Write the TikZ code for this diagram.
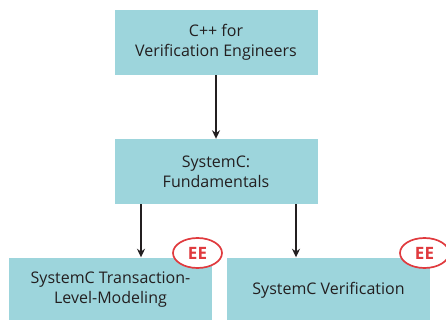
\documentclass[tikz,border=0pt]{standalone}
\usepackage{fontspec}
\setmainfont{Open Sans}
\usetikzlibrary{arrows.meta,positioning,shapes.geometric}
\definecolor{boxfill}{HTML}{9DD5DC}
\definecolor{txt}{HTML}{231F20}
\definecolor{eered}{HTML}{E03A3E}
\tikzset{
  course/.style={fill=boxfill, draw=none, minimum width=203pt, minimum height=65pt, inner sep=0pt,
    align=center, text=txt, font=\fontsize{16}{20}\selectfont},
  link/.style={draw=txt, line width=1.7pt, -{Stealth[length=8.5pt,width=8pt]}},
  eebadge/.style={ellipse, draw=eered, line width=1.7pt, fill=white, minimum width=49pt, minimum height=30pt,
    inner sep=0pt, text=eered, font=\fontsize{17}{19}\selectfont\bfseries},
}
\begin{document}
\begin{tikzpicture}[x=1pt,y=-1pt]
\useasboundingbox (0,0) rectangle (446,320);
\begin{scope}
\clip (0,0) rectangle (446,320);
\node[course] (cpp) at (216,42.5) {C++ for\\Verification Engineers};
\node[course] (fund) at (216,171.5) {SystemC:\\Fundamentals};
\node[course] (tlm) at (110.5,290) {SystemC Transaction-\\Level-Modeling};
\node[course] (ver) at (328.5,290) {SystemC Verification};
\end{scope}
\coordinate (fl) at (141,204);
\coordinate (fr) at (296,204);
\draw[link] (cpp.south) -- (fund.north);
\draw[link] (fl) -- (fl |- tlm.north);
\draw[link] (fr) -- (fr |- ver.north);
\node[eebadge] (ee1) at (197.5,253) {EE};
\node[eebadge] (ee2) at (424.5,253) {EE};
\end{tikzpicture}
\end{document}
